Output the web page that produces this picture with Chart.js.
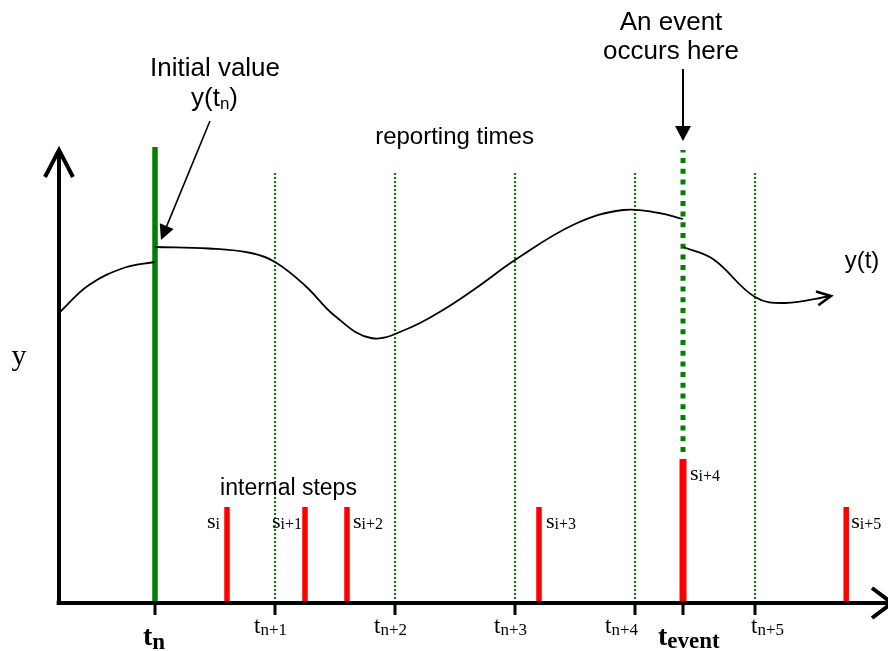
<!DOCTYPE html>
<html><head><meta charset="utf-8">
<script src="https://cdn.jsdelivr.net/npm/chart.js@4"></script>
<style>html,body{margin:0;padding:0;background:#fff;}#wrap{width:888px;height:651px;}</style>
</head><body><div id="wrap"><canvas id="c" width="888" height="651"></canvas></div>
<script>
// ---- data (time in reporting intervals, t_n = 0; y in arbitrary units) ----
const tnTime = 0;
const reportTimes = [1, 2, 3, 4, 5];
const reportLabels = ['n+1', 'n+2', 'n+3', 'n+4', 'n+5'];
const eventTime = 4.4;
const stepTimes = [0.6, 1.25, 1.6, 3.2, 4.4, 5.76];
const stepHeights = [1.92, 1.92, 1.92, 1.92, 2.88, 1.92];
const stepLabels = ['i', 'i+1', 'i+2', 'i+3', 'i+4', 'i+5'];
const curveBefore = [[-0.8, 5.8], [-0.55, 6.36], [-0.25, 6.71], [0, 6.82]];
const curveMid = [[0, 7.12], [0.45, 7.09], [0.8, 7.0], [1.0, 6.82], [1.25, 6.35], [1.5, 5.74], [1.8, 5.30], [2.1, 5.48], [2.4, 5.86], [2.7, 6.34], [3.0, 6.86], [3.5, 7.58], [3.9, 7.86], [4.2, 7.80], [4.4, 7.68]];
const curveAfter = [[4.4, 7.12], [4.65, 6.88], [5.0, 6.12], [5.25, 6.0], [5.633, 6.14]];

// ---- layout constants ----
const AXIS_T = -0.8, Y_TOP = 9.06, X_END = 6.125;
const TN_TOP = 9.12, REPORT_TOP = 8.6, EVENT_TOP = 9.06, EVENT_BOTTOM = 3.02, TICK_LEN = -0.24;
const GREEN = '#008000', RED = '#ff0000', BLACK = '#000000';
const SANS = '"Liberation Sans", Arial, sans-serif';
const SERIF = '"Liberation Serif", "Times New Roman", serif';

const pts = arr => arr.map(p => ({ x: p[0], y: p[1] }));
function vline(t, y0, y1, color, width, dash) {
  return { data: [{ x: t, y: y0 }, { x: t, y: y1 }], borderColor: color, borderWidth: width,
    borderDash: dash || [], pointRadius: 0, showLine: true, tension: 0, fill: false, clip: false };
}
function curve(arr) {
  return { data: pts(arr), borderColor: BLACK, borderWidth: 1.8, pointRadius: 0, showLine: true,
    tension: 0.4, fill: false, clip: false };
}

const datasets = [];
// axes
datasets.push({ data: [{ x: AXIS_T, y: -0.04 }, { x: AXIS_T, y: Y_TOP }], borderColor: BLACK, borderWidth: 4, pointRadius: 0, showLine: true, clip: false });
datasets.push({ data: [{ x: AXIS_T - 0.02, y: 0 }, { x: X_END, y: 0 }], borderColor: BLACK, borderWidth: 4, pointRadius: 0, showLine: true, clip: false });
// tick marks
[tnTime, ...reportTimes, eventTime].forEach(t => datasets.push(vline(t, 0, TICK_LEN, BLACK, 3)));
// curve
datasets.push(curve(curveBefore), curve(curveMid), curve(curveAfter));
// t_n line
datasets.push(vline(tnTime, 0, TN_TOP, GREEN, 5.5));
// event dotted line
datasets.push(vline(eventTime, EVENT_BOTTOM, EVENT_TOP, GREEN, 5, [5, 5.7]));
// internal steps
stepTimes.forEach((t, i) => datasets.push(vline(t, 0.04, stepHeights[i], RED, i === 4 ? 7 : 5.5)));
// reporting times
reportTimes.forEach(t => datasets.push(vline(t, 0, REPORT_TOP, GREEN, 2.2, [2, 2])));

function drawParts(ctx, x, y, parts, align) {
  let w = 0;
  parts.forEach(p => { ctx.font = p.font; p.w = ctx.measureText(p.text).width; w += p.w; });
  let cx = align === 'center' ? x - w / 2 : (align === 'right' ? x - w : x);
  ctx.textAlign = 'left';
  parts.forEach(p => { ctx.font = p.font; ctx.fillText(p.text, cx, y + (p.dy || 0)); cx += p.w; });
}
function chevron(ctx, tx, ty, ang, back, half, lw) {
  const c = Math.cos(ang), s = Math.sin(ang);
  ctx.save(); ctx.strokeStyle = BLACK; ctx.lineWidth = lw; ctx.lineJoin = 'miter'; ctx.lineCap = 'butt';
  ctx.beginPath();
  ctx.moveTo(tx - back * c - half * (-s), ty - back * s - half * c);
  ctx.lineTo(tx, ty);
  ctx.lineTo(tx - back * c + half * (-s), ty - back * s + half * c);
  ctx.stroke(); ctx.restore();
}
function filledArrow(ctx, x0, y0, x1, y1, len, half, lw) {
  const ang = Math.atan2(y1 - y0, x1 - x0), c = Math.cos(ang), s = Math.sin(ang);
  ctx.save(); ctx.strokeStyle = BLACK; ctx.fillStyle = BLACK; ctx.lineWidth = lw;
  ctx.beginPath(); ctx.moveTo(x0, y0); ctx.lineTo(x1 - len * c, y1 - len * s); ctx.stroke();
  ctx.beginPath(); ctx.moveTo(x1, y1);
  ctx.lineTo(x1 - len * c + half * s, y1 - len * s - half * c);
  ctx.lineTo(x1 - len * c - half * s, y1 - len * s + half * c);
  ctx.closePath(); ctx.fill(); ctx.restore();
}

const diagram = {
  id: 'diagram',
  afterDatasetsDraw(chart) {
    const ctx = chart.ctx, X = v => chart.scales.x.getPixelForValue(v), Y = v => chart.scales.y.getPixelForValue(v);
    ctx.save();
    // axis arrows
    chevron(ctx, X(AXIS_T), Y(Y_TOP), -Math.PI / 2, 27, 14, 4);
    chevron(ctx, X(X_END) + 2, Y(0), 0, 20, 15, 4);
    // curve end arrow
    const b = curveAfter[curveAfter.length - 1];
    chevron(ctx, X(b[0]), Y(b[1]), -0.17, 14, 7, 2.6);
    // annotation arrows
    filledArrow(ctx, X(0.458), Y(9.64), X(0.05), Y(7.26), 15, 7.5, 1.6);
    filledArrow(ctx, X(eventTime), Y(10.68), X(eventTime), Y(9.24), 15, 8, 2);

    ctx.fillStyle = BLACK; ctx.textBaseline = 'alphabetic';
    // sans annotations
    drawParts(ctx, X(0.5), Y(10.54), [{ text: 'Initial value', font: '26px ' + SANS }], 'center');
    drawParts(ctx, X(0.496), Y(9.94), [{ text: 'y(t', font: '26px ' + SANS }, { text: 'n', font: '17px ' + SANS, dy: 3 }, { text: ')', font: '26px ' + SANS }], 'center');
    drawParts(ctx, X(2.496), Y(9.18), [{ text: 'reporting times', font: '24px ' + SANS }], 'center');
    drawParts(ctx, X(4.3), Y(11.46), [{ text: 'An event', font: '26px ' + SANS }], 'center');
    drawParts(ctx, X(4.3), Y(10.88), [{ text: 'occurs here', font: '26px ' + SANS }], 'center');
    drawParts(ctx, X(5.892), Y(6.7), [{ text: 'y(t)', font: '24px ' + SANS }], 'center');
    drawParts(ctx, X(1.1125), Y(2.16), [{ text: 'internal steps', font: '23px ' + SANS }], 'center');
    // y axis label
    drawParts(ctx, X(-1.133), Y(4.76), [{ text: 'y', font: '30px ' + SERIF }], 'center');
    // tick labels
    const offs = [-21, -21, -21, -30, -4];
    reportTimes.forEach((t, i) => {
      drawParts(ctx, X(t) + offs[i], Y(0) + 30, [{ text: 't', font: '23px ' + SERIF }, { text: reportLabels[i], font: '17px ' + SERIF, dy: 2 }], 'left');
    });
    drawParts(ctx, X(tnTime) - 12, Y(0) + 42, [{ text: 't', font: 'bold 28px ' + SERIF }, { text: 'n', font: 'bold 23px ' + SERIF, dy: 4 }], 'left');
    drawParts(ctx, X(eventTime) - 25, Y(0) + 42, [{ text: 't', font: 'bold 28px ' + SERIF }, { text: 'event', font: 'bold 23px ' + SERIF, dy: 3 }], 'left');
    // step labels
    const side = ['left', 'left', 'right', 'right', 'right', 'right'];
    const gap = [7, 3, 6, 7, 7, 5];
    stepTimes.forEach((t, i) => {
      const parts = [{ text: 's', font: '22px ' + SERIF }, { text: stepLabels[i], font: '16px ' + SERIF, dy: 1 }];
      if (side[i] === 'left') drawParts(ctx, X(t) - gap[i], Y(stepHeights[i]) + 21, parts, 'right');
      else drawParts(ctx, X(t) + gap[i], Y(stepHeights[i]) + 21, parts, 'left');
    });
    ctx.restore();
  }
};

new Chart(document.getElementById('c'), {
  type: 'scatter',
  data: { datasets },
  options: {
    responsive: false, animation: false, events: [],
    layout: { padding: 0 },
    plugins: { legend: { display: false }, tooltip: { enabled: false }, title: { display: false } },
    scales: {
      x: { type: 'linear', min: -155 / 120, max: 733 / 120, display: false },
      y: { type: 'linear', min: -0.96, max: 12.06, display: false }
    }
  },
  plugins: [diagram]
});
</script></body></html>
